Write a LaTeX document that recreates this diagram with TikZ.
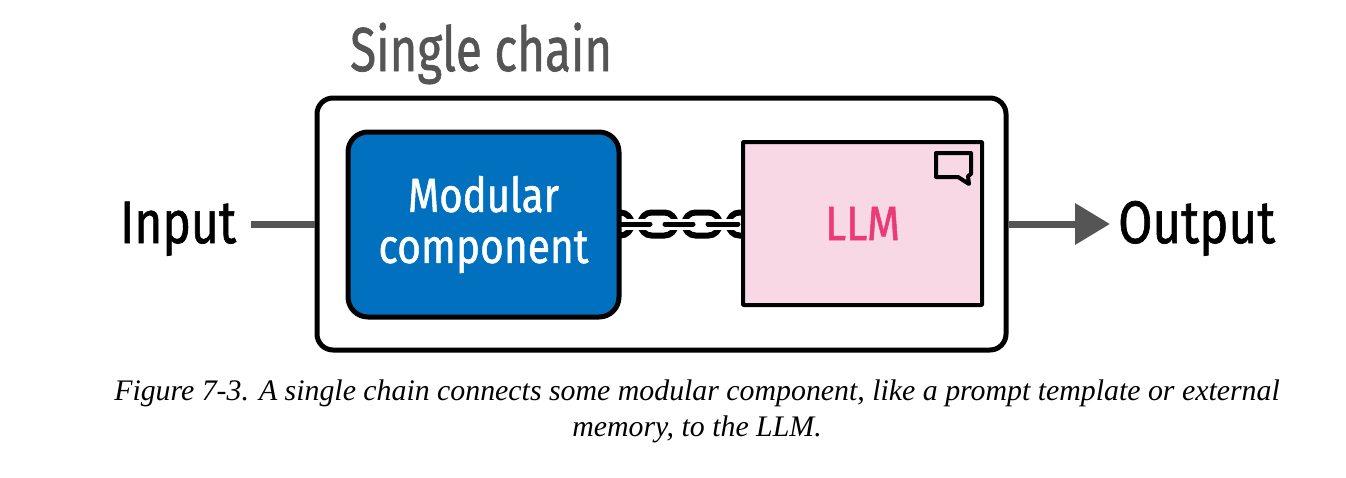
\documentclass[tikz,border=0pt]{standalone}
\usepackage{fontspec}
\usepackage{graphicx}
\setmainfont{Liberation Serif}
\newfontfamily\dsans[FakeBold=1.2]{Fira Sans}
\usetikzlibrary{arrows.meta,calc}
\definecolor{chainblue}{HTML}{0070BF}
\definecolor{llmpink}{HTML}{F9D8E6}
\definecolor{llmtext}{HTML}{EC3A78}
\definecolor{flowgray}{HTML}{555555}
\newcommand\fitw[2]{\resizebox{#1pt}{\height}{#2}}
\tikzset{
  x=1pt,y=-1pt,
  outerbox/.style={draw=black,line width=5pt,rounded corners=16pt,minimum width=689pt,minimum height=252pt,inner sep=0pt},
  modbox/.style={draw=black,fill=chainblue,line width=5pt,rounded corners=20pt,minimum width=271pt,minimum height=185pt,inner sep=0pt,align=center,text=white,font=\dsans\fontsize{48}{51}\selectfont},
  llmbox/.style={draw=black,fill=llmpink,line width=4pt,rounded corners=0.8pt,minimum width=239pt,minimum height=163pt,inner sep=0pt,text=llmtext,font=\dsans\fontsize{48}{51}\selectfont},
  bigtext/.style={inner sep=0pt,anchor=base west,font=\dsans\fontsize{60}{62}\selectfont},
  titletext/.style={inner sep=0pt,anchor=base west,text=flowgray,font=\dsans\fontsize{62}{64}\selectfont},
  captiontext/.style={inner sep=0pt,align=center,font=\itshape\fontsize{29.84}{36}\selectfont},
  flow/.style={draw=flowgray,line width=7pt},
  link/.style={draw=black,line width=6pt,rounded corners=11pt},
  linkhalo/.style={draw=white,line width=11pt},
  linkbar/.style={draw=black,line width=5pt,line cap=round},
  bubble/.style={draw=black,line width=4pt,line join=round}
}
\begin{document}
\begin{tikzpicture}
\useasboundingbox (0,0) rectangle (1346,477);
% chain between the two boxes (boxes drawn afterwards hide its ends)
\foreach \c in {614,658,702,746}{
  \draw[link] (\c-17.5,212.5) rectangle (\c+17.5,235.5);
}
\foreach \a/\b in {620/650,665/693,708/738}{
  \draw[linkhalo] (\a-2,224) -- (\b+2,224);
  \draw[linkbar] (\a,224) -- (\b,224);
}
\node[outerbox] (outer) at (661.5,224) {};
\node[modbox] (mod) at (483.5,224.5) {\raisebox{-4pt}{\fitw{151}{Modular}}\\\raisebox{-4pt}{\fitw{210}{component}}};
\node[llmbox] (llm) at (862.5,223.5) {\raisebox{-1pt}{\fitw{75}{LLM}}};
\draw[bubble] (936,153) -- (971,153) -- (971,174) -- (968,176) -- (969,184) -- (958,177) -- (936,177) -- cycle;
\node[titletext] (title) at (350,71) {\fitw{262}{Single chain}};
\node[bigtext] (input) at (120,243) {\fitw{116}{Input}};
\node[bigtext] (output) at (1118,243) {\fitw{157}{Output}};
\draw[flow,shorten <=15pt] (input.east |- outer.west) -- (outer.west);
\draw[flow,-{Triangle[length=35pt,width=40pt]},shorten >=8pt] (outer.east) -- (output.west |- outer.east);
\node[captiontext] (caption) at (697,411) {Figure 7-3. A single chain connects some modular component, like a prompt template or external\\memory, to the LLM.};
\end{tikzpicture}
\end{document}
